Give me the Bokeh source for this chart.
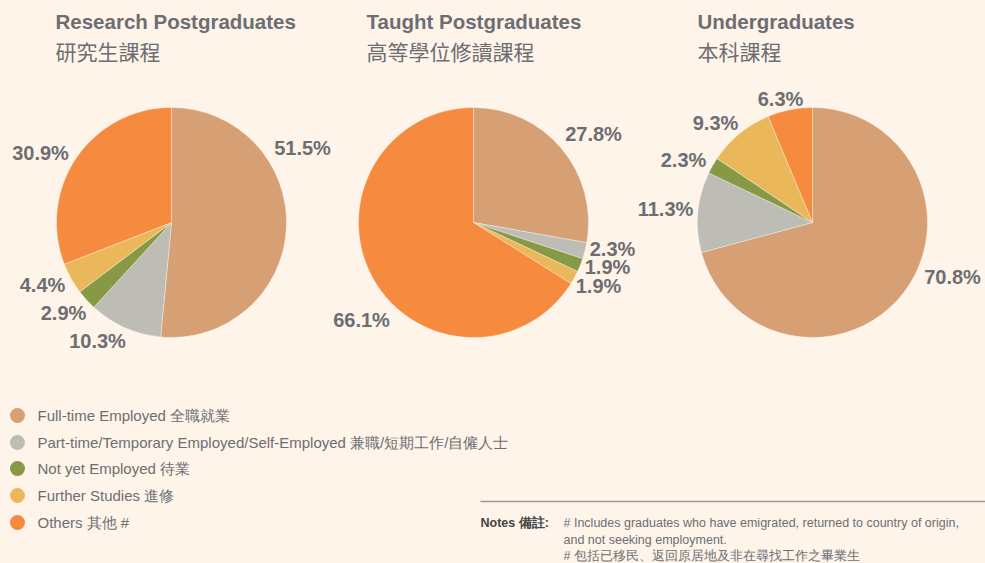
import math
from bokeh.plotting import figure
from bokeh.models import Range1d, ColumnDataSource
from bokeh.core.properties import value
from bokeh.embed import file_html
from bokeh.resources import INLINE

# ---------------- data ----------------
categories = ["Full-time Employed 全職就業",
              "Part-time/Temporary Employed/Self-Employed 兼職/短期工作/自僱人士",
              "Not yet Employed  待業",
              "Further Studies 進修",
              "Others 其他 #"]
colors = ["#D6A074", "#BDBDB5", "#879945", "#EBB75B", "#F68A3E"]

titles_en = ["Research Postgraduates", "Taught Postgraduates", "Undergraduates"]
titles_zh = ["研究生課程", "高等學位修讀課程", "本科課程"]

research = [51.5, 10.3, 2.9, 4.4, 30.9]
taught = [27.8, 2.3, 1.9, 1.9, 66.1]
undergrad = [70.8, 11.3, 2.3, 9.3, 6.3]

notes_label = "Notes 備註:"
notes_lines = ["# Includes graduates who have emigrated, returned to country of  origin,",
               "and not seeking employment.",
               "# 包括已移民、返回原居地及非在尋找工作之畢業生"]

# ---------------- layout ----------------
W, H = 985, 563
BG = "#FEF4EA"
TXT = "#6D6E71"

def X(px):
    return px

def Y(py):
    return H - py

pie_centers = [(171, 222), (473, 222), (812, 222)]
pie_radius = 115
title_x = [55, 366, 697]
label_offsets = [
    [(131, -75), (-74, 118), (-108, 90), (-129, 62), (-131, -70)],
    [(120, -89), (139, 26), (134, 44), (125, 63), (-112, 97)],
    [(140, 54), (-147, -14), (-129, -63), (-97, -100), (-32, -124)],
]

p = figure(width=W, height=H, x_range=Range1d(0, W), y_range=Range1d(0, H),
           output_backend="svg", toolbar_location=None,
           x_axis_location=None, y_axis_location=None, min_border=0)
p.grid.visible = False
p.outline_line_color = None
p.background_fill_color = BG
p.border_fill_color = BG

for i, vals in enumerate([research, taught, undergrad]):
    cx, cy = pie_centers[i]
    total = sum(vals)
    starts, ends = [], []
    c = 0.0
    for v in vals:
        starts.append(math.pi / 2 - 2 * math.pi * c / total)
        c += v
        ends.append(math.pi / 2 - 2 * math.pi * c / total)
    src = ColumnDataSource(dict(x=[X(cx)] * 5, y=[Y(cy)] * 5, s=starts, e=ends, color=colors))
    p.wedge(x="x", y="y", radius=pie_radius, start_angle="s", end_angle="e",
            direction="clock", fill_color="color", line_color="#FFFFFF",
            line_alpha=0.5, line_width=0.7, source=src)
    lx = [X(cx + dx) for dx, dy in label_offsets[i]]
    ly = [Y(cy + dy) for dx, dy in label_offsets[i]]
    p.text(x=lx, y=ly, text=[f"{v:.1f}%" for v in vals], text_align="center",
           text_baseline="middle", text_color=TXT, text_font=value("Liberation Sans"),
           text_font_style="bold", text_font_size="20px")
    p.text(x=[X(title_x[i])], y=[Y(21)], text=[titles_en[i]], text_align="left",
           text_baseline="middle", text_color=TXT, text_font=value("Liberation Sans"),
           text_font_style="bold", text_font_size="20.5px")
    p.text(x=[X(title_x[i])], y=[Y(50)], text=[titles_zh[i]], text_align="left",
           text_baseline="middle", text_color=TXT, text_font=value("Noto Sans CJK TC"),
           text_font_size="21px")

# legend
leg_y = [415, 442, 468, 495, 522]
p.scatter(x=[X(17)] * 5, y=[Y(v) for v in leg_y], size=15, marker="circle",
          fill_color=colors, line_color=None)
p.text(x=[X(37)] * 5, y=[Y(v) for v in leg_y], text=categories, text_align="left",
       text_baseline="middle", text_color=TXT, text_font=value("Liberation Sans"),
       text_font_size="15px")

# notes
p.segment(x0=[X(480)], y0=[Y(501)], x1=[X(985)], y1=[Y(501)], line_color="#9B9B9B", line_width=1.5)
p.text(x=[X(480)], y=[Y(522)], text=[notes_label], text_align="left", text_baseline="middle",
       text_color="#444444", text_font=value("Liberation Sans"), text_font_style="bold",
       text_font_size="12.5px")
p.text(x=[X(563)] * 3, y=[Y(522), Y(539), Y(555)], text=notes_lines, text_align="left",
       text_baseline="middle", text_color=TXT, text_font=value("Liberation Sans"),
       text_font_size="12.5px")

html = file_html(p, INLINE)
html = html.replace("<head>",
                    "<head><style>html,body{background:%s;margin:0;padding:0;overflow:hidden;}</style>" % BG, 1)
open("out.html", "w").write(html)
